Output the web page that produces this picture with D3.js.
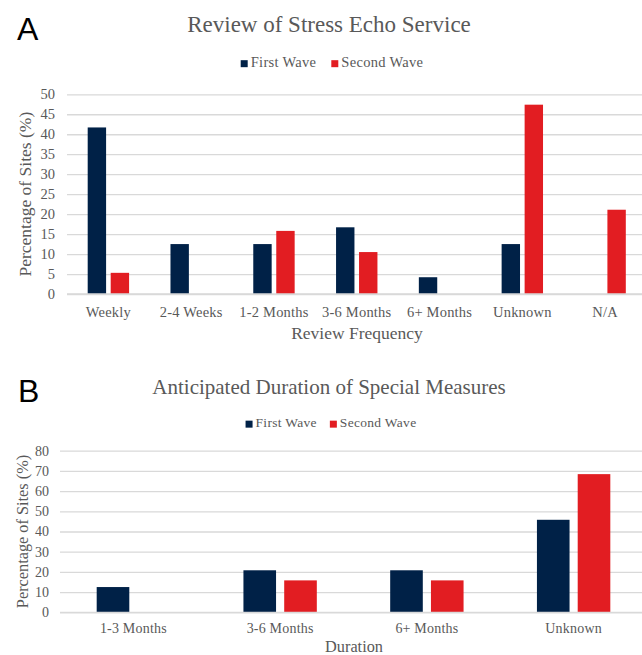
<!DOCTYPE html>
<html>
<head>
<meta charset="utf-8">
<script src="https://cdn.jsdelivr.net/npm/d3@7"></script>
<style>
  html, body { margin: 0; padding: 0; background: #fff; }
  svg { display: block; }
  text { font-family: "Liberation Serif", "Times New Roman", serif; fill: #595959; }
  .panel { font-family: "Liberation Sans", Arial, sans-serif; fill: #000; }
</style>
</head>
<body>
<svg id="chart" width="642" height="655"></svg>
<script>
// ---------- data ----------
const seriesNames = ["First Wave", "Second Wave"];
const seriesColors = ["#002147", "#E21D22"];

const reviewCategories = ["Weekly", "2-4 Weeks", "1-2 Months", "3-6 Months", "6+ Months", "Unknown", "N/A"];
const reviewFirstWave  = [41.7, 12.5, 12.5, 16.7, 4.2, 12.5, 0];
const reviewSecondWave = [5.3, 0, 15.8, 10.5, 0, 47.4, 21.1];
const reviewTicks = [0, 5, 10, 15, 20, 25, 30, 35, 40, 45, 50];

const durationCategories = ["1-3 Months", "3-6 Months", "6+ Months", "Unknown"];
const durationFirstWave  = [12.5, 20.8, 20.8, 45.8];
const durationSecondWave = [0, 15.8, 15.8, 68.4];
const durationTicks = [0, 10, 20, 30, 40, 50, 60, 70, 80];

const svg = d3.select("#chart");

function drawPanel(cfg) {
  const g = svg.append("g");
  const x = d3.scaleBand().domain(cfg.categories).range([cfg.x0, cfg.x1]).paddingInner(0).paddingOuter(0);
  const xs = d3.scaleBand().domain(seriesNames).range([0, x.step()]).paddingInner(0.2).paddingOuter(0.9);
  const y = d3.scaleLinear().domain([0, cfg.ymax]).range([cfg.y0, cfg.y1]);

  // panel letter
  g.append("text").attr("class", "panel").attr("x", cfg.letterX).attr("y", cfg.letterY)
    .attr("font-size", 32).text(cfg.letter);

  // title
  g.append("text").attr("x", cfg.titleX).attr("y", cfg.titleY).attr("text-anchor", "middle")
    .attr("font-size", cfg.titleSize).text(cfg.title);

  // legend
  const leg = g.append("g");
  let cx = 0;
  seriesNames.forEach((s, i) => {
    const it = leg.append("g").attr("transform", `translate(${cx},0)`);
    it.append("rect").attr("x", 0).attr("y", -cfg.legendSize * 0.47).attr("width", 7).attr("height", 7)
      .attr("fill", seriesColors[i]);
    const t = it.append("text").attr("x", 10).attr("y", 0).attr("font-size", cfg.legendSize)
      .attr("letter-spacing", 0.3).text(s);
    cx += 10 + t.node().getComputedTextLength() + cfg.legendGap;
  });
  const lw = cx - cfg.legendGap;
  leg.attr("transform", `translate(${cfg.legendCX - lw / 2},${cfg.legendY})`);

  // gridlines
  const yAxis = d3.axisLeft(y).tickValues(cfg.ticks).tickSize(-(cfg.x1 - cfg.x0)).tickPadding(cfg.tickPad)
    .tickFormat(d3.format("d"));
  const ga = g.append("g").attr("transform", `translate(${cfg.x0},0)`).call(yAxis);
  ga.select(".domain").remove();
  ga.selectAll(".tick line").attr("stroke", "#d9d9d9").attr("stroke-width", 1.3);
  ga.selectAll(".tick text").attr("font-size", cfg.tickSize).attr("fill", "#595959")
    .attr("font-family", '"Liberation Serif", "Times New Roman", serif');

  // bars
  const series = [cfg.first, cfg.second];
  series.forEach((vals, si) => {
    g.append("g").selectAll("rect").data(cfg.categories).join("rect")
      .attr("x", (c) => x(c) + xs(seriesNames[si]))
      .attr("width", xs.bandwidth())
      .attr("y", (c, i) => y(vals[i]))
      .attr("height", (c, i) => y(0) - y(vals[i]))
      .attr("fill", seriesColors[si]);
  });

  // x-axis baseline
  g.append("line").attr("x1", cfg.x0).attr("x2", cfg.x1).attr("y1", y(0)).attr("y2", y(0))
    .attr("stroke", "#d9d9d9").attr("stroke-width", 1.3);

  // x tick labels
  g.append("g").selectAll("text").data(cfg.categories).join("text")
    .attr("x", (c) => x(c) + x.step() / 2)
    .attr("y", cfg.xLabelY)
    .attr("text-anchor", "middle")
    .attr("font-size", cfg.tickSize)
    .attr("letter-spacing", 0.2)
    .text((c) => c);

  // x axis title
  g.append("text").attr("x", cfg.xTitleX).attr("y", cfg.xTitleY).attr("text-anchor", "middle")
    .attr("font-size", cfg.axisTitleSize).text(cfg.xTitle);

  // y axis title
  g.append("text").attr("transform", `translate(${cfg.yTitleX},${(cfg.y0 + cfg.y1) / 2}) rotate(-90)`)
    .attr("text-anchor", "middle").attr("font-size", cfg.axisTitleSize).text("Percentage of Sites (%)");
}

drawPanel({
  letter: "A", letterX: 17, letterY: 40,
  title: "Review of Stress Echo Service", titleX: 329, titleY: 32, titleSize: 23,
  legendCX: 332, legendY: 67, legendSize: 14.5, legendGap: 15,
  categories: reviewCategories, first: reviewFirstWave, second: reviewSecondWave,
  ticks: reviewTicks, ymax: 50,
  x0: 67, x1: 646.5, y0: 294, y1: 94.3,
  tickSize: 14.5, tickPad: 12,
  xLabelY: 317, xTitle: "Review Frequency", xTitleX: 357, xTitleY: 338.5, axisTitleSize: 17.5,
  yTitleX: 31
});

drawPanel({
  letter: "B", letterX: 18, letterY: 402,
  title: "Anticipated Duration of Special Measures", titleX: 329, titleY: 393.5, titleSize: 21,
  legendCX: 331, legendY: 427, legendSize: 13.5, legendGap: 13,
  categories: durationCategories, first: durationFirstWave, second: durationSecondWave,
  ticks: durationTicks, ymax: 80,
  x0: 60, x1: 647, y0: 612.3, y1: 450.7,
  tickSize: 14, tickPad: 11,
  xLabelY: 632.5, xTitle: "Duration", xTitleX: 354, xTitleY: 652, axisTitleSize: 16.3,
  yTitleX: 28
});
</script>
</body>
</html>
